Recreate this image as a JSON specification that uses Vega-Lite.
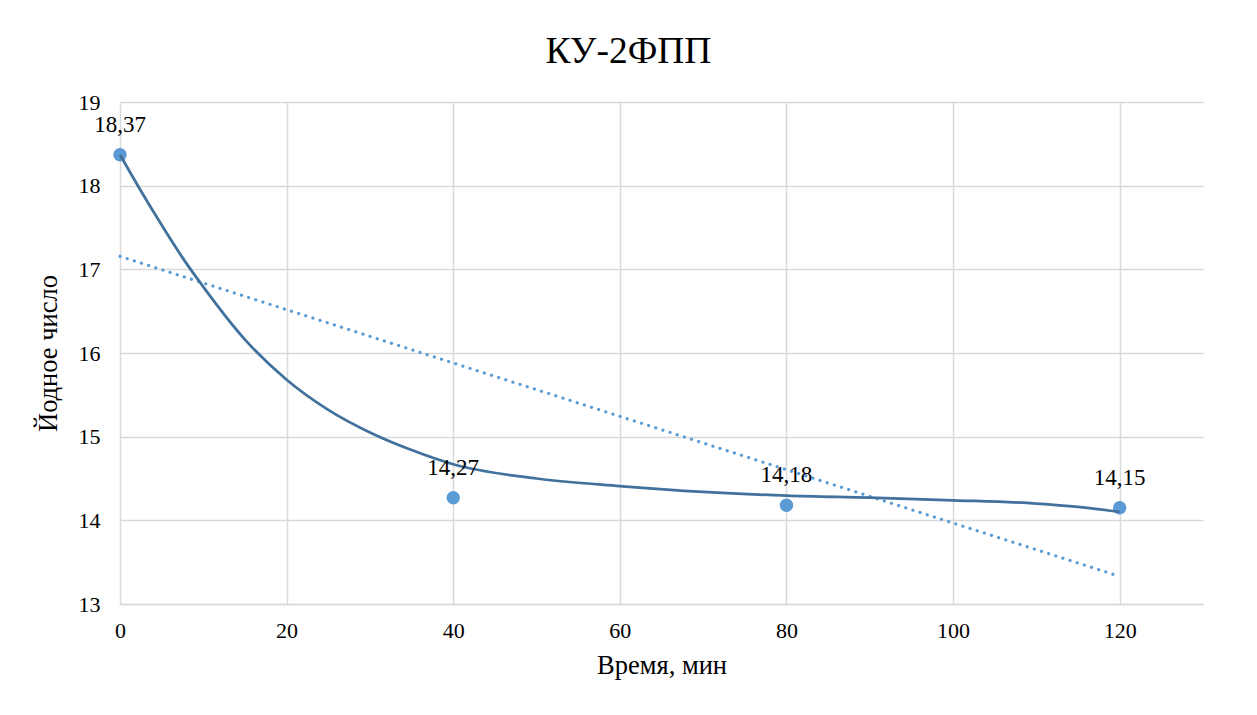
{
  "$schema": "https://vega.github.io/schema/vega-lite/v6.json",
  "autosize": {"type": "none"},
  "width": 1083,
  "height": 502,
  "padding": {"left": 120, "top": 102, "right": 54, "bottom": 111},
  "background": "white",
  "title": {"text": "КУ-2ФПП", "font": "Liberation Serif", "fontSize": 37.5, "fontWeight": "normal", "color": "#000000", "anchor": "middle", "dx": -33, "dy": 49, "offset": 32, "baseline": "bottom"},
  "config": {
    "view": {"stroke": null},
    "axis": {"labelFont": "Liberation Serif", "titleFont": "Liberation Serif", "labelColor": "#000000", "titleColor": "#000000", "labelFontSize": 22, "titleFontSize": 26.5, "titleFontWeight": "normal", "gridColor": "#D9D9D9", "gridWidth": 1.5, "domainColor": "#D9D9D9", "domainWidth": 1.5, "ticks": false, "labelFlush": false, "labelOverlap": false}
  },
  "datasets": {
    "points": [
      {"t": 0, "v": 18.37, "label": "18,37"},
      {"t": 40, "v": 14.27, "label": "14,27"},
      {"t": 80, "v": 14.18, "label": "14,18"},
      {"t": 120, "v": 14.15, "label": "14,15"}
    ],
    "curve": [
      {"t": 0, "v": 18.37},
      {"t": 2.5, "v": 17.94},
      {"t": 5, "v": 17.53},
      {"t": 7.5, "v": 17.14},
      {"t": 10, "v": 16.79},
      {"t": 15, "v": 16.16},
      {"t": 20, "v": 15.68},
      {"t": 25, "v": 15.32},
      {"t": 30, "v": 15.05},
      {"t": 35, "v": 14.84},
      {"t": 40, "v": 14.67},
      {"t": 50, "v": 14.5},
      {"t": 60, "v": 14.41},
      {"t": 70, "v": 14.34},
      {"t": 80, "v": 14.295},
      {"t": 90, "v": 14.27},
      {"t": 100, "v": 14.24},
      {"t": 110, "v": 14.2},
      {"t": 115, "v": 14.16},
      {"t": 120, "v": 14.1}
    ],
    "trend": [
      {"t": 0, "v": 17.155},
      {"t": 120, "v": 13.33}
    ]
  },
  "encoding": {
    "x": {"field": "t", "type": "quantitative", "scale": {"domain": [0, 130], "nice": false, "zero": false}, "axis": {"values": [0, 20, 40, 60, 80, 100, 120], "title": "Время, мин", "labelPadding": 16, "titlePadding": 11}},
    "y": {"field": "v", "type": "quantitative", "scale": {"domain": [13, 19], "nice": false, "zero": false}, "axis": {"values": [13, 14, 15, 16, 17, 18, 19], "title": "Йодное число", "labelPadding": 20, "titlePadding": 16, "domain": false}}
  },
  "layer": [
    {
      "data": {"name": "points"},
      "mark": {"type": "point", "filled": true, "shape": "circle", "size": 180, "color": "#5B9BD5", "opacity": 1}
    },
    {
      "data": {"name": "trend"},
      "mark": {"type": "line", "color": "#5B9BD5", "strokeWidth": 3.2, "strokeDash": [0.1, 7.4], "strokeCap": "round"}
    },
    {
      "data": {"name": "curve"},
      "mark": {"type": "line", "color": "#41719C", "strokeWidth": 2.75, "interpolate": "monotone"}
    },
    {
      "data": {"name": "points"},
      "mark": {"type": "text", "font": "Liberation Serif", "fontSize": 23, "color": "#000000", "baseline": "alphabetic", "dy": -23},
      "encoding": {"text": {"field": "label"}}
    }
  ]
}
